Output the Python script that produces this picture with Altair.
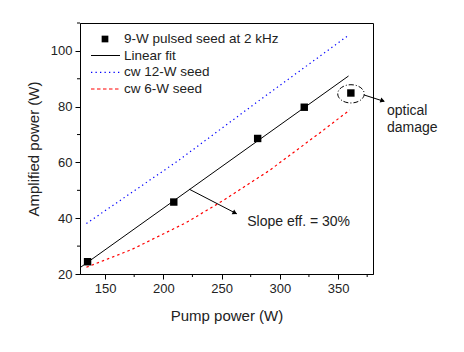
import altair as alt
import pandas as pd

# measured data
pump = [135, 209, 281, 321, 361]
power = [24.4, 45.8, 68.6, 79.8, 84.9]

fit_x = [129, 359]
fit_y = [22.4, 91.0]

cw12_x = [134, 212, 280, 358]
cw12_y = [38.1, 60.4, 81.5, 105.3]

cw6_x = [134, 173, 220, 252, 291, 334, 360]
cw6_y = [22.4, 28.8, 38.5, 46.5, 57.1, 70.5, 78.8]

x_major = [150, 200, 250, 300, 350]
x_minor = [175, 225, 275, 325, 375]
y_major = [20, 40, 60, 80, 100]
y_minor = [30, 50, 70, 90, 110]

legend_labels = ["9-W  pulsed seed at 2 kHz", "Linear fit", "cw 12-W  seed", "cw 6-W  seed"]

FONT = "Liberation Sans"
W, H = 293, 251
XDOM = [128.5, 380]
YDOM = [20, 110]

xs = alt.Scale(domain=XDOM, nice=False, zero=False)
ys = alt.Scale(domain=YDOM, nice=False, zero=False)

xaxis = alt.Axis(values=x_major, title="Pump power (W)", grid=False, tickSize=5,
                 labelFontSize=13, labelFont=FONT, labelColor="#222", labelPadding=3,
                 titleFont=FONT, titleFontSize=15, titleFontWeight="normal", titleColor="#222",
                 titleX=W / 2, titleY=41, titleBaseline="middle",
                 domainColor="black", tickColor="black")
yaxis = alt.Axis(values=y_major, title="Amplified power (W)", grid=False, tickSize=5,
                 labelFontSize=13, labelFont=FONT, labelColor="#222", labelPadding=3,
                 titleFont=FONT, titleFontSize=15, titleFontWeight="normal", titleColor="#222",
                 titleX=-47, titleY=H / 2, titleAngle=-90, titleAlign="center", titleBaseline="middle",
                 domainColor="black", tickColor="black")

X = alt.X("x:Q", scale=xs, axis=xaxis)
Y = alt.Y("y:Q", scale=ys, axis=yaxis)

def df(xv, yv):
    return pd.DataFrame({"x": xv, "y": yv})

pts = alt.Chart(df(pump, power)).mark_square(size=55, color="black", opacity=1).encode(x=X, y=Y)
fit = alt.Chart(df(fit_x, fit_y)).mark_line(color="black", strokeWidth=1).encode(x=X, y=Y)
blue = alt.Chart(df(cw12_x, cw12_y)).mark_line(color="#0000ff", strokeWidth=1.2, strokeDash=[1.3, 3.2]).encode(x=X, y=Y)
red = alt.Chart(df(cw6_x, cw6_y)).mark_line(color="#ff0000", strokeWidth=1.2, strokeDash=[2.5, 3]).encode(x=X, y=Y)

# minor ticks
xminor = alt.Chart(pd.DataFrame({"x": x_minor})).mark_rule(color="black").encode(
    x=X, y=alt.value(H), y2=alt.value(H + 3))
yminor = alt.Chart(pd.DataFrame({"y": y_minor})).mark_rule(color="black").encode(
    y=Y, x=alt.value(-3), x2=alt.value(0))

# slope annotation
slope_line = alt.Chart(df([222.3, 263.0], [50.4, 41.6])).mark_line(color="black", strokeWidth=1).encode(x=X, y=Y)
slope_head = alt.Chart(df([261.5], [41.9])).mark_point(shape="triangle-right", angle=27, size=28,
                                                     filled=True, color="black", opacity=1).encode(x=X, y=Y)
slope_text = alt.Chart(pd.DataFrame({"x": [272], "y": [38.7], "t": ["Slope eff. = 30%"]})).mark_text(
    align="left", baseline="middle", font=FONT, fontSize=14, color="#222").encode(x=X, y=Y, text="t:N")

# optical damage annotation
ellipse = alt.Chart(df([361.1], [84.6])).mark_point(
    shape="M-1,0A1,0.69,0,1,0,1,0A1,0.69,0,1,0,-1,0Z", size=700, filled=False,
    color="black", strokeWidth=1, strokeDash=[5, 2, 1, 2], opacity=1).encode(x=X, y=Y)
opt_line = alt.Chart(df([372.3, 389.5], [84.2, 81.9])).mark_line(color="black", strokeWidth=1).encode(x=X, y=Y)
opt_head = alt.Chart(df([388.3], [82.1])).mark_point(shape="triangle-right", angle=18, size=28,
                                                  filled=True, color="black", opacity=1).encode(x=X, y=Y)
opt_text = alt.Chart(pd.DataFrame({"x": [392, 392], "y": [78.5, 72.3], "t": ["optical", "damage"]})).mark_text(
    align="left", baseline="middle", font=FONT, fontSize=14, color="#222").encode(x=X, y=Y, text="t:N")

# legend (manual)
one = pd.DataFrame({"a": [0]})
leg_rows = [16, 32.5, 49.3, 66]
leg_sq = alt.Chart(one).mark_square(size=45, color="black", opacity=1).encode(
    x=alt.value(25), y=alt.value(leg_rows[0]))
leg_fit = alt.Chart(one).mark_rule(color="black", strokeWidth=1).encode(
    x=alt.value(11), x2=alt.value(40), y=alt.value(leg_rows[1]))
leg_blue = alt.Chart(one).mark_rule(color="#0000ff", strokeWidth=1.2, strokeDash=[1.3, 3.2]).encode(
    x=alt.value(11), x2=alt.value(40), y=alt.value(leg_rows[2]))
leg_red = alt.Chart(one).mark_rule(color="#ff0000", strokeWidth=1.2, strokeDash=[3.5, 2.5]).encode(
    x=alt.value(11), x2=alt.value(40), y=alt.value(leg_rows[3]))
leg_texts = [
    alt.Chart(pd.DataFrame({"t": [lab]})).mark_text(
        align="left", baseline="middle", font=FONT, fontSize=13.5, color="#222").encode(
        x=alt.value(44), y=alt.value(r), text="t:N")
    for lab, r in zip(legend_labels, leg_rows)
]

chart = alt.layer(
    red, blue, fit, pts, xminor, yminor,
    slope_line, slope_head, slope_text,
    ellipse, opt_line, opt_head, opt_text,
    leg_sq, leg_fit, leg_blue, leg_red, *leg_texts,
).properties(
    width=W, height=H,
    autosize=alt.AutoSizeParams(type="none"),
    padding={"left": 80, "top": 23, "right": 91, "bottom": 78},
    background="white",
).configure_view(stroke="black", strokeWidth=1)

chart.save("out.html", embed_options={"renderer": "svg", "actions": False})
